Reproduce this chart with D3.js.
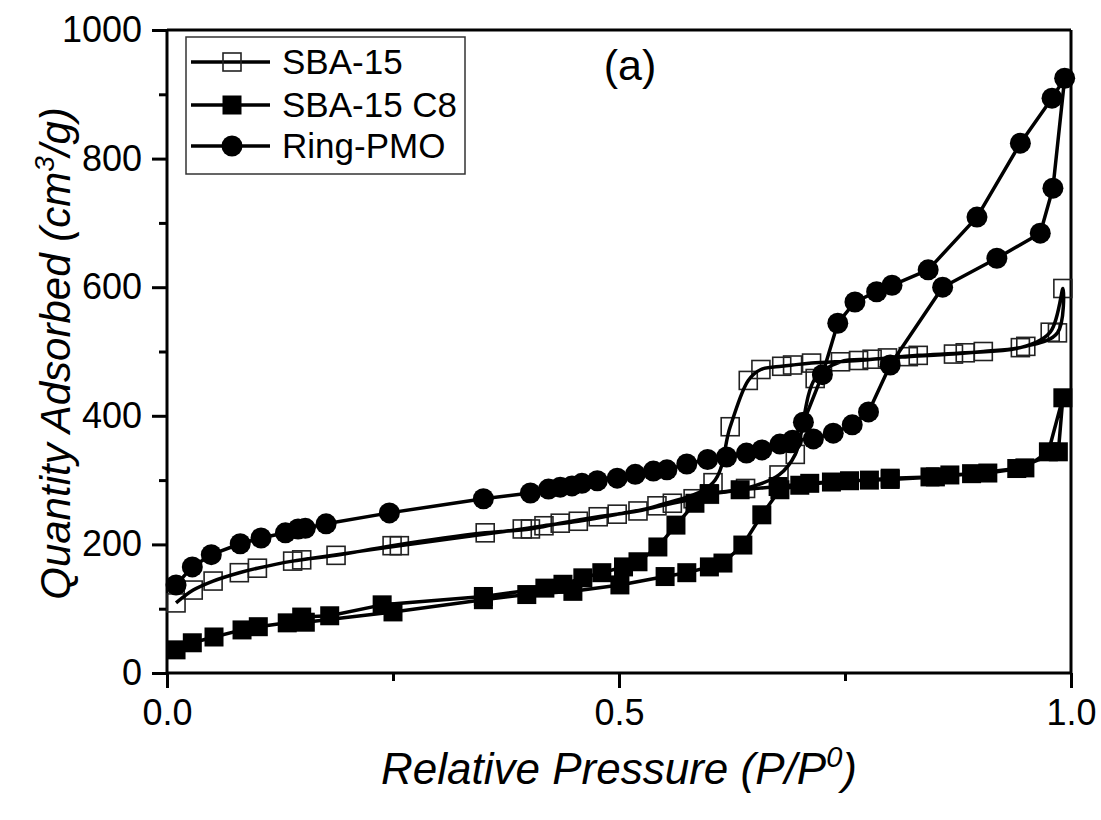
<!DOCTYPE html>
<html>
<head>
<meta charset="utf-8">
<script src="https://cdn.jsdelivr.net/npm/d3@7"></script>
<style>
  html, body { margin: 0; padding: 0; background: #fff; }
  svg { display: block; }
  text { font-family: "Liberation Sans", Arial, sans-serif; fill: #000; }
</style>
</head>
<body>
<div id="chart"></div>
<script>
// ---------------- data ----------------
const seriesNames = ["SBA-15", "SBA-15 C8", "Ring-PMO"];
const panelLabel = "(a)";
const xTickValues = [0.0, 0.5, 1.0];
const xTickLabels = ["0.0", "0.5", "1.0"];
const yTickValues = [0, 200, 400, 600, 800, 1000];
const yTickLabels = ["0", "200", "400", "600", "800", "1000"];

// SBA-15 (open squares): adsorption then desorption
const sbaP = [0.010, 0.029, 0.051, 0.080, 0.100, 0.139, 0.187, 0.249, 0.352, 0.402, 0.435, 0.477, 0.521, 0.559, 0.582, 0.600, 0.640, 0.677, 0.695, 0.717, 0.745, 0.780, 0.831, 0.883, 0.944, 0.977, 0.991,
              0.985, 0.950, 0.903, 0.870, 0.820, 0.797, 0.765, 0.713, 0.692, 0.680, 0.657, 0.643, 0.623, 0.604, 0.542, 0.498, 0.455, 0.417, 0.393, 0.257, 0.149];
const sbaQ = [109, 129, 143, 156, 163, 174, 183, 198, 218, 224, 233, 243, 252, 264, 271, 278, 287, 308, 340, 458, 484, 488, 494, 498, 506, 530, 598,
              529, 508, 500, 496, 492, 490, 486, 482, 479, 477, 472, 455, 383, 296, 260, 247, 236, 229, 224, 198, 176];

// SBA-15 C8 (filled squares): adsorption then desorption
const c8P = [0.010, 0.028, 0.052, 0.083, 0.101, 0.133, 0.153, 0.250, 0.350, 0.398, 0.449, 0.501, 0.551, 0.575, 0.600, 0.615, 0.637, 0.658, 0.678, 0.700, 0.735, 0.777, 0.800, 0.844, 0.866, 0.908, 0.949, 0.975, 0.991,
             0.986, 0.940, 0.890, 0.850, 0.800, 0.755, 0.711, 0.676, 0.634, 0.600, 0.584, 0.563, 0.543, 0.521, 0.505, 0.481, 0.460, 0.438, 0.418, 0.350, 0.238, 0.180, 0.149];
const c8Q = [36, 47, 56, 67, 72, 78, 79, 95, 114, 122, 127, 137, 150, 156, 165, 171, 199, 246, 285, 292, 297, 300, 303, 305, 308, 311, 319, 344, 428,
             344, 318, 310, 305, 301, 299, 295, 290, 285, 279, 264, 230, 196, 173, 165, 156, 148, 138, 132, 119, 106, 89, 87];

// Ring-PMO (filled circles): adsorption then desorption
const pmoP = [0.010, 0.028, 0.049, 0.081, 0.104, 0.131, 0.145, 0.153, 0.176, 0.246, 0.350, 0.402, 0.422, 0.435, 0.448, 0.459, 0.476, 0.498, 0.518, 0.538, 0.553, 0.575, 0.598, 0.619, 0.641, 0.658, 0.678, 0.692, 0.715, 0.737, 0.758, 0.776, 0.800, 0.858, 0.918, 0.966, 0.980, 0.993,
              0.979, 0.944, 0.896, 0.842, 0.802, 0.785, 0.761, 0.742, 0.725, 0.704, 0.690];
const pmoQ = [137, 165, 184, 201, 210, 218, 224, 225, 232, 249, 271, 280, 286, 289, 291, 295, 299, 303, 309, 314, 316, 325, 332, 336, 342, 347, 356, 362, 364, 373, 386, 406, 479, 600, 645, 684, 754, 925,
              894, 824, 709, 627, 603, 593, 577, 544, 464, 390, 358];

// ---------------- layout ----------------
const W = 1101, H = 820;
const m = { left: 167, right: 1071, top: 30, bottom: 673 };

const svg = d3.select("#chart").append("svg").attr("width", W).attr("height", H);

const x = d3.scaleLinear().domain([0, 1]).range([m.left, m.right]);
const y = d3.scaleLinear().domain([0, 1000]).range([m.bottom, m.top]);

// frame top/right
svg.append("line").attr("x1", m.left).attr("x2", m.right).attr("y1", m.top).attr("y2", m.top)
  .attr("stroke", "#000").attr("stroke-width", 3);
svg.append("line").attr("x1", m.right).attr("x2", m.right).attr("y1", m.top).attr("y2", m.bottom)
  .attr("stroke", "#000").attr("stroke-width", 3);

// axes
const xMinor = [0.25, 0.75];
const yMinor = [100, 300, 500, 700, 900];
const xAxis = d3.axisBottom(x).tickValues(xTickValues).tickFormat((d, i) => xTickLabels[i]).tickSize(15).tickPadding(11);
const xAxisMinor = d3.axisBottom(x).tickValues(xMinor).tickFormat("").tickSize(8);
const yAxis = d3.axisLeft(y).tickValues(yTickValues).tickFormat((d, i) => yTickLabels[i]).tickSize(15).tickPadding(10);
const yAxisMinor = d3.axisLeft(y).tickValues(yMinor).tickFormat("").tickSize(8);

function styleAxis(g) {
  g.select(".domain").remove();
  g.selectAll("line").attr("stroke", "#000").attr("stroke-width", 3);
  g.selectAll("text").style("font-size", "36px").attr("fill", "#000").style("font-family", "'Liberation Sans', Arial, sans-serif");
}
svg.append("g").attr("transform", `translate(0,${m.bottom})`).call(xAxisMinor).call(styleAxis);
svg.append("g").attr("transform", `translate(0,${m.bottom})`).call(xAxis).call(styleAxis);
svg.append("g").attr("transform", `translate(${m.left},0)`).call(yAxisMinor).call(styleAxis);
svg.append("g").attr("transform", `translate(${m.left},0)`).call(yAxis).call(styleAxis);
// axis lines
svg.append("line").attr("x1", m.left).attr("x2", m.right).attr("y1", m.bottom).attr("y2", m.bottom)
  .attr("stroke", "#000").attr("stroke-width", 3);
svg.append("line").attr("x1", m.left).attr("x2", m.left).attr("y1", m.top).attr("y2", m.bottom)
  .attr("stroke", "#000").attr("stroke-width", 3);

// axis titles
const xt = svg.append("text").attr("x", (m.left + m.right) / 2).attr("y", 784)
  .attr("text-anchor", "middle").style("font-size", "44px").style("font-style", "italic");
xt.append("tspan").text("Relative Pressure (P/P");
xt.append("tspan").attr("dy", -17).style("font-size", "29px").text("0");
xt.append("tspan").attr("dy", 17).text(")");

const yt = svg.append("text").attr("transform", `translate(70,${(m.top + m.bottom) / 2 + 2}) rotate(-90)`)
  .attr("text-anchor", "middle").style("font-size", "42px").style("font-style", "italic");
yt.append("tspan").text("Quantity Adsorbed (cm");
yt.append("tspan").attr("dy", -16).style("font-size", "28px").text("3");
yt.append("tspan").attr("dy", 16).text("/g)");

// ---------------- series ----------------
const series = [
  { name: seriesNames[0], p: sbaP, q: sbaQ, marker: "openSquare", curve: d3.curveCatmullRom.alpha(0.5) },
  { name: seriesNames[1], p: c8P, q: c8Q, marker: "square", curve: d3.curveLinear },
  { name: seriesNames[2], p: pmoP, q: pmoQ, marker: "circle", curve: d3.curveLinear }
];

function drawMarker(g, type, cx, cy) {
  if (type === "openSquare") {
    g.append("rect").attr("x", cx - 9).attr("y", cy - 9).attr("width", 18).attr("height", 18)
      .attr("fill", "none").attr("stroke", "#222").attr("stroke-width", 1.6);
  } else if (type === "square") {
    g.append("rect").attr("x", cx - 9.5).attr("y", cy - 9.5).attr("width", 19).attr("height", 19)
      .attr("fill", "#000");
  } else {
    g.append("circle").attr("cx", cx).attr("cy", cy).attr("r", 10.5).attr("fill", "#000");
  }
}

series.forEach(s => {
  const pts = s.p.map((v, i) => [v, s.q[i]]);
  const g = svg.append("g");
  const line = d3.line().x(d => x(d[0])).y(d => y(d[1])).curve(s.curve);
  pts.forEach(d => drawMarker(g, s.marker, x(d[0]), y(d[1])));
  g.append("path").attr("d", line(pts)).attr("fill", "none").attr("stroke", "#000")
    .attr("stroke-width", 3.5).attr("stroke-linejoin", "round");
});

// ---------------- legend ----------------
const lg = svg.append("g");
lg.append("rect").attr("x", 186).attr("y", 37).attr("width", 279).attr("height", 137)
  .attr("fill", "#fff").attr("stroke", "#333").attr("stroke-width", 1.5);
const legendY = [62, 105, 146];
series.forEach((s, i) => {
  lg.append("line").attr("x1", 191).attr("x2", 270).attr("y1", legendY[i]).attr("y2", legendY[i])
    .attr("stroke", "#000").attr("stroke-width", 3.5);
  drawMarker(lg, s.marker, 232, legendY[i]);
  lg.append("text").attr("x", 282).attr("y", legendY[i] + 12).style("font-size", "35px").text(s.name);
});

svg.append("text").attr("x", 630).attr("y", 80).attr("text-anchor", "middle")
  .style("font-size", "43px").text(panelLabel);
</script>
</body>
</html>
